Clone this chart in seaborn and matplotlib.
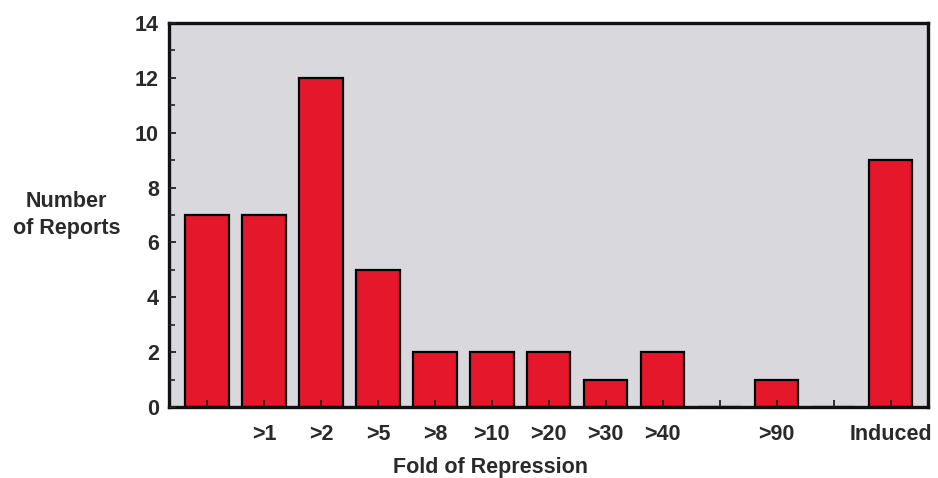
import matplotlib
matplotlib.use("Agg")
import matplotlib.pyplot as plt
import seaborn as sns
import pandas as pd
from matplotlib.ticker import MultipleLocator

# data
categories = ["base", ">1", ">2", ">5", ">8", ">10", ">20", ">30", ">40",
              "gap1", ">90", "gap2", "Induced"]
tick_labels = ["", ">1", ">2", ">5", ">8", ">10", ">20", ">30", ">40",
               "", ">90", "", "Induced"]
counts = [7, 7, 12, 5, 2, 2, 2, 1, 2, 0, 1, 0, 9]

df = pd.DataFrame({"fold": categories, "reports": counts})

sns.set_style("white")
plt.rcParams["font.family"] = ["Liberation Sans", "DejaVu Sans"]
plt.rcParams["font.weight"] = "bold"

fig = plt.figure(figsize=(9.38, 4.78), dpi=100)
ax = fig.add_axes([0.180, 0.1485, 0.809, 0.8035])
ax.set_facecolor("#d9d8dd")

sns.barplot(data=df, x="fold", y="reports", order=categories,
            color="#e5172b", saturation=1, width=0.76,
            edgecolor="black", linewidth=1.6, ax=ax)
ax.set_axisbelow(False)

ax.set_xlim(-0.67, 12.65)
ax.set_ylim(0, 14)
ax.yaxis.set_major_locator(MultipleLocator(2))
ax.yaxis.set_minor_locator(MultipleLocator(1))
ax.set_xticks(range(len(categories)))
ax.set_xticklabels(tick_labels)

fs = 15.5
ax.tick_params(axis="y", which="major", direction="in", length=5, width=1.3,
               labelsize=fs, pad=7, color="#222222", left=True)
ax.tick_params(axis="y", which="minor", direction="in", length=4, width=1.2,
               color="#222222", left=True)
ax.tick_params(axis="x", direction="in", length=5, width=1.3, labelsize=fs,
               pad=12, color="#222222", bottom=True)
for lab in ax.get_xticklabels() + ax.get_yticklabels():
    lab.set_fontweight("bold")
    lab.set_color("#2a2a2a")

for s in ax.spines.values():
    s.set_visible(True)
    s.set_linewidth(2.4)
    s.set_color("#111111")

ax.set_xlabel("Fold of Repression", fontsize=fs, fontweight="bold",
              color="#2a2a2a")
ax.xaxis.set_label_coords(0.424, -0.13)
ax.set_ylabel("")
fig.text(0.071, 0.550, "Number\nof Reports", ha="center", va="center",
         fontsize=fs, fontweight="bold", color="#2a2a2a", linespacing=1.35)

fig.savefig("out.png", dpi=100)
